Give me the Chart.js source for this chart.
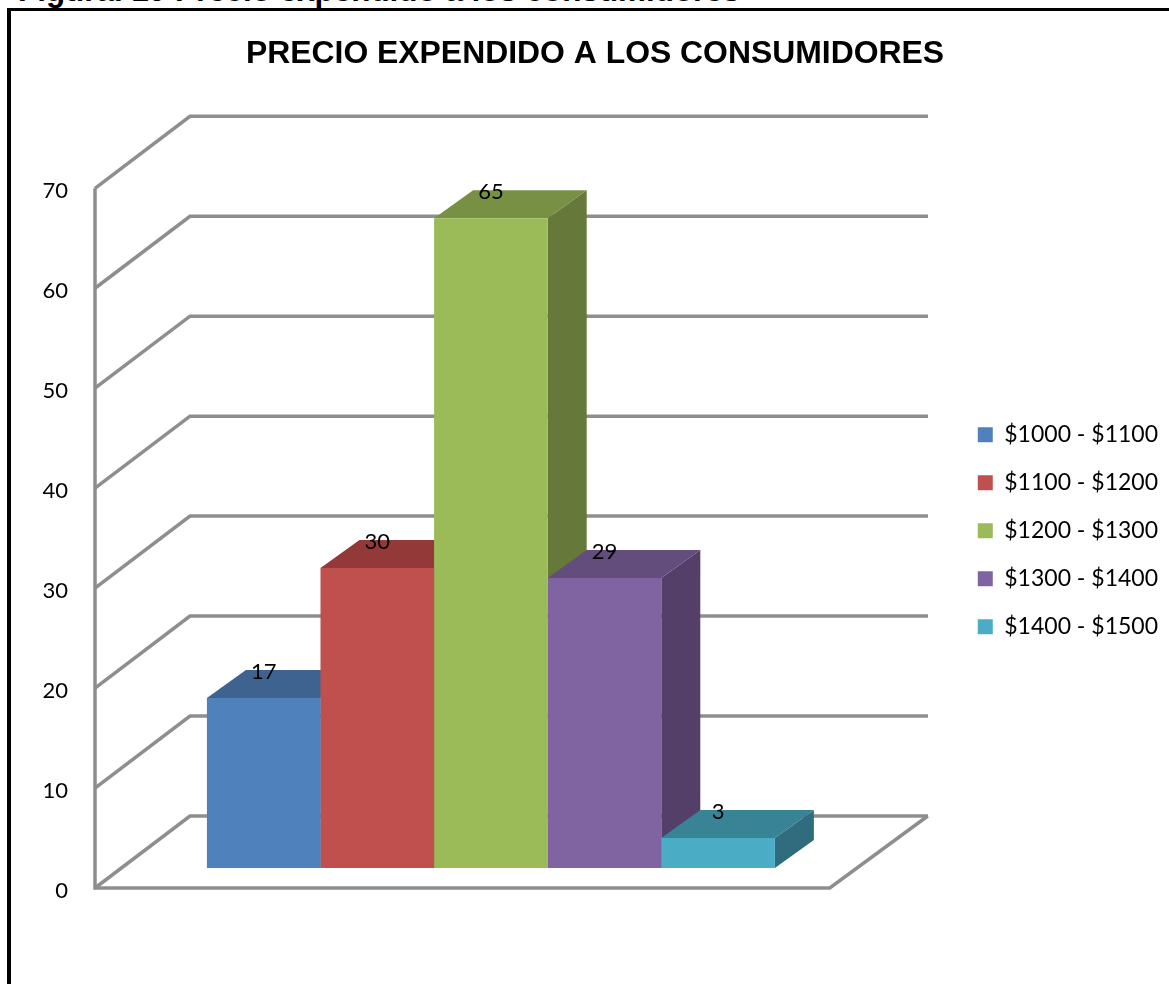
<!DOCTYPE html>
<html>
<head>
<meta charset="utf-8">
<script src="https://cdn.jsdelivr.net/npm/chart.js@4/dist/chart.umd.min.js"></script>
<style>
  html, body { margin: 0; padding: 0; background: #fff; overflow: hidden; }
  #caption { position: absolute; left: 18px; top: -27px; font: bold 31.4px "Liberation Sans", Arial, sans-serif; color: #000; white-space: nowrap; }
  #frame { position: absolute; left: 7px; top: 8px; right: -10px; bottom: -10px; border-style: solid; border-color: #000; border-width: 3px 0 0 4px; }
  #wrap { position: absolute; left: 0; top: 0; width: 1169px; height: 984px; }
</style>
</head>
<body>
<div id="caption">Figura. 19 Precio expendido a los consumidores</div>
<div id="frame"></div>
<div id="wrap"><canvas id="graph"></canvas></div>
<script>
// donnees
const titre = "PRECIO EXPENDIDO A LOS CONSUMIDORES";
const categories = [""];
const tranches = ["$1000 - $1100", "$1100 - $1200", "$1200 - $1300", "$1300 - $1400", "$1400 - $1500"];
const valeurs = [17, 30, 65, 29, 3];
const yMin = 0;
const yMax = 70;
const yStep = 10;

// couleurs des faces
const couleurs = ["#4f81bd", "#c0504d", "#9bbb59", "#8064a2", "#4bacc6"];
const couleursHaut = ["#3e6390", "#933a38", "#779044", "#624d7c", "#398396"];
const couleursCote = ["#335277", "#7a302e", "#66783a", "#533f68", "#2f6c7d"];

// decalages de la fausse 3D
const murX = 95, murY = -72, murDroite = 928;
const barreX = 28.5, barreY = -20;
const profX = 39, profY = -28;
const gris = "#8e8e8e";
const police = 'Lato, "Open Sans", sans-serif';

function ligne(ctx, pts) {
  ctx.beginPath();
  ctx.moveTo(pts[0][0], pts[0][1]);
  for (let i = 1; i < pts.length; i++) ctx.lineTo(pts[i][0], pts[i][1]);
  ctx.stroke();
}

function face(ctx, pts, couleur) {
  ctx.fillStyle = couleur;
  ctx.beginPath();
  ctx.moveTo(pts[0][0], pts[0][1]);
  for (let i = 1; i < pts.length; i++) ctx.lineTo(pts[i][0], pts[i][1]);
  ctx.closePath();
  ctx.fill();
}

const decor3d = {
  id: "decor3d",
  afterLayout(chart) {
    // remonte un peu la legende
    chart.legend.bottom -= 15;
  },
  beforeDatasetsDraw(chart) {
    const ctx = chart.ctx;
    const y = chart.scales.y;
    const a = chart.chartArea;

    // murs et sol
    ctx.save();
    ctx.strokeStyle = gris;
    ctx.lineWidth = 3.5;
    ctx.lineJoin = "miter";
    y.ticks.forEach((t) => {
      const py = y.getPixelForValue(t.value);
      ligne(ctx, [[a.left, py], [a.left + murX, py + murY], [murDroite, py + murY]]);
    });
    ligne(ctx, [[a.left, y.getPixelForValue(yMax)], [a.left, y.getPixelForValue(yMin)], [a.right, y.getPixelForValue(yMin)], [a.right + murX + 3, y.getPixelForValue(yMin) + murY]]);
    ctx.restore();

    // faces du haut et de cote, de gauche a droite
    ctx.save();
    ctx.translate(barreX, barreY);
    valeurs.forEach((v, i) => {
      const b = chart.getDatasetMeta(i).data[0];
      const g = b.x - b.width / 2, d = b.x + b.width / 2;
      face(ctx, [[d, b.y], [d + profX, b.y + profY], [d + profX, b.base + profY], [d, b.base]], couleursCote[i]);
      face(ctx, [[g, b.y], [g + profX, b.y + profY], [d + profX, b.y + profY], [d, b.y]], couleursHaut[i]);
    });
    ctx.restore();

    // les faces avant passent par dessus
    ctx.save();
    ctx.translate(barreX, barreY);
  },
  afterDatasetsDraw(chart) {
    const ctx = chart.ctx;
    ctx.restore();

    // etiquettes de valeur
    ctx.save();
    ctx.fillStyle = "#000";
    ctx.font = "22px " + police;
    ctx.textAlign = "center";
    ctx.textBaseline = "middle";
    valeurs.forEach((v, i) => {
      const b = chart.getDatasetMeta(i).data[0];
      ctx.fillText(String(v), b.x + barreX, b.y + barreY - 26);
    });
    ctx.restore();
  },
};

const ctx = document.getElementById("graph");
const graph = new Chart(ctx, {
  type: "bar",
  data: {
    labels: categories,
    datasets: tranches.map((nom, i) => ({
      label: nom,
      data: [valeurs[i]],
      backgroundColor: couleurs[i],
    })),
  },
  options: {
    responsive: true,
    maintainAspectRatio: false,
    animation: false,
    layout: { padding: { left: 22, right: 1, top: 35, bottom: 88 } },
    datasets: { bar: { barPercentage: 1, categoryPercentage: 0.773 } },
    scales: {
      x: {
        grid: { display: false },
        border: { display: false },
        ticks: { display: false },
      },
      y: {
        min: yMin,
        max: yMax,
        ticks: {
          stepSize: yStep,
          color: "#000",
          padding: 19,
          labelOffset: 2.5,
          font: { family: police, size: 22 },
        },
        grid: { display: false },
        border: { display: false },
        afterFit(s) { s.width = 73; },
      },
      // espace vide entre le graphe et la legende
      vide: {
        type: "linear",
        position: "right",
        display: true,
        grid: { display: false },
        border: { display: false },
        ticks: { display: false },
        afterFit(s) { s.width = 123; },
      },
    },
    plugins: {
      title: {
        display: true,
        text: titre,
        color: "#000",
        font: { family: '"Liberation Sans", Arial, sans-serif', size: 31.9, weight: "bold" },
        padding: { top: 0, bottom: 115 },
      },
      legend: {
        position: "right",
        fullSize: false,
        maxWidth: 230,
        labels: {
          color: "#000",
          boxWidth: 15,
          boxHeight: 15,
          padding: 25,
          font: { family: police, size: 23 },
        },
      },
      tooltip: { enabled: false },
    },
  },
  plugins: [decor3d],
});
</script>
</body>
</html>
